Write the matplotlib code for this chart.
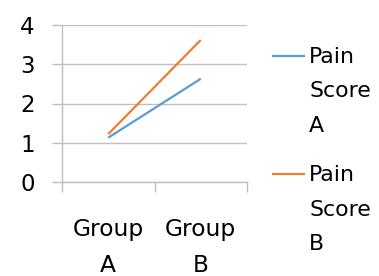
import matplotlib
matplotlib.use("Agg")
import matplotlib.pyplot as plt

plt.rcParams['font.family'] = ['DejaVu Sans']

categories = ["Group\nA", "Group\nB"]
series_names = ["Pain\nScore\nA", "Pain\nScore\nB"]
pain_a = [1.13, 2.63]
pain_b = [1.22, 3.62]
series_values = [pain_a, pain_b]
colors = ["#5B9BD5", "#ED7D31"]
y_ticks = [0, 1, 2, 3, 4]

W, H = 379, 276
fig = plt.figure(figsize=(W / 100, H / 100), dpi=100)
ax = fig.add_axes([62 / W, 1 - 182 / H, (247 - 62) / W, (182 - 25) / H])

x = list(range(len(categories)))
lines = []
for name, vals, c in zip(series_names, series_values, colors):
    ln, = ax.plot(x, vals, color=c, lw=1.6, label=name, solid_capstyle='butt')
    lines.append(ln)

grid_c = "#BFBFBF"
ax.set_xlim(-0.5, len(categories) - 0.5)
ax.set_ylim(0, 4)
ax.set_yticks(y_ticks)
ax.set_yticklabels([str(t) for t in y_ticks])
ax.yaxis.grid(True, color=grid_c, lw=1.0)
ax.set_axisbelow(True)

ax.set_xticks([i - 0.5 for i in range(len(categories) + 1)])
ax.set_xticklabels([])
ax.set_xticks(x, labels=categories, minor=True)
ax.tick_params(axis='x', which='minor', length=0, pad=26, labelsize=16.8)
ax.tick_params(axis='x', which='major', length=7.2, width=1.0, color=grid_c, direction='out')
ax.tick_params(axis='y', length=7.2, width=1.0, color=grid_c, pad=12.5, labelsize=16.5)
for t in ax.get_xminorticklabels():
    t.set_linespacing(1.72)

for s in ['top', 'right']:
    ax.spines[s].set_visible(False)
for s in ['left', 'bottom']:
    ax.spines[s].set_color(grid_c)
    ax.spines[s].set_linewidth(1.0)

leg = ax.legend(handles=lines, loc='upper left', bbox_to_anchor=(272 / W, 1 - 47 / H),
                bbox_transform=fig.transFigure, frameon=False, fontsize=15.8,
                borderpad=0, borderaxespad=0, handlelength=1.5, handletextpad=0.2,
                labelspacing=1.35, handleheight=1.0)
for t in leg.get_texts():
    t.set_linespacing(1.9)
for col in leg._legend_handle_box.get_children():
    for hp in col.get_children():
        hp.align = "top"

fig.savefig("out.png", dpi=100)
